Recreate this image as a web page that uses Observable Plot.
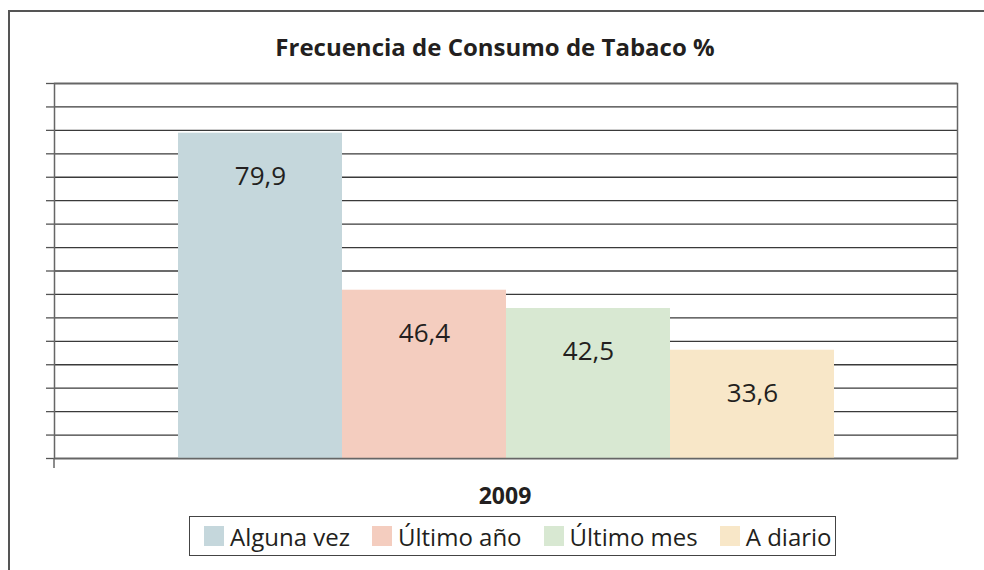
<!DOCTYPE html>
<html><head><meta charset="utf-8">
<script src="https://cdn.jsdelivr.net/npm/d3@7"></script>
<script src="https://cdn.jsdelivr.net/npm/@observablehq/plot@0.6"></script>
<style>
body{margin:0;background:#fff;font-family:"Open Sans",sans-serif;color:#231f20}
#wrap{position:relative;width:984px;height:570px;overflow:hidden;background:#fff}
#border{position:absolute;left:8px;top:10px;width:1200px;height:800px;border-left:2px solid #555;border-top:2px solid #555;box-sizing:border-box}
#chart{position:absolute;left:0;top:0}
#title{position:absolute;left:495px;top:46px;transform:translate(-50%,-50%);font-weight:700;font-size:24px;white-space:nowrap}
#cat{position:absolute;left:505px;top:495px;transform:translate(-50%,-50%);font-weight:700;font-size:23px}
#legend{position:absolute;left:189px;top:516px;width:647px;height:40px;box-sizing:border-box;border:1.5px solid #444;display:flex;align-items:center;justify-content:flex-start;gap:22px;padding-left:14px;font-size:24px}
.item{display:flex;align-items:center;white-space:nowrap}
.sw{width:20px;height:20px;margin-right:6px;display:inline-block}
</style></head>
<body>
<div id="wrap">
  <div id="border"></div>
  <div id="chart"></div>
  <div id="title"></div>
  <div id="cat"></div>
  <div id="legend"></div>
</div>
<script>
const titleText = "Frecuencia de Consumo de Tabaco %";
const category = "2009";
const series = ["Alguna vez", "Último año", "Último mes", "A diario"];
const values = [79.9, 46.4, 42.5, 33.6];
const colors = ["#c5d7dc", "#f4cdbf", "#d8e8d2", "#f8e7c8"];
const yDomain = [10.5, 90.5];
const gridStep = 5;

const fmt = d3.formatLocale({decimal: ",", thousands: ".", grouping: [3], currency: ["", "€"]}).format(".1f");
const rows = series.map((s, i) => ({series: s, value: values[i], label: fmt(values[i])}));
const gridTicks = d3.range(yDomain[0], yDomain[1] + 0.01, gridStep);

const W = 984, H = 570, mL = 54, mR = 27, mT = 83, mB = 112;

const chart = Plot.plot({
  width: W, height: H,
  marginTop: mT, marginBottom: mB, marginLeft: mL, marginRight: mR,
  style: {background: "transparent", overflow: "visible"},
  x: {domain: series, paddingInner: 0, paddingOuter: 0.75, axis: null},
  y: {domain: yDomain},
  color: {domain: series, range: colors},
  marks: [
    Plot.ruleY(gridTicks, {stroke: "#3a3a3a", strokeWidth: 1.3}),
    Plot.axisY(gridTicks, {tickSize: 8, tickFormat: () => "", stroke: "#555", strokeWidth: 1.3, label: null}),
    Plot.barY(rows, {x: "series", y1: yDomain[0], y2: "value", fill: "series"}),
    Plot.frame({stroke: "#666", strokeWidth: 1.5}),
    Plot.text(rows, {x: "series", y: "value", text: "label", dy: 43, fontSize: 26, fill: "#231f20", fontFamily: "Open Sans"})
  ]
});
document.getElementById("chart").appendChild(chart);
// small extension of the vertical axis below the baseline
d3.select(chart).append("line")
  .attr("x1", mL).attr("x2", mL)
  .attr("y1", H - mB).attr("y2", H - mB + 10)
  .attr("stroke", "#666").attr("stroke-width", 1.5);

document.getElementById("title").textContent = titleText;
document.getElementById("cat").textContent = category;
const lg = d3.select("#legend");
series.forEach((s, i) => {
  const it = lg.append("div").attr("class", "item");
  it.append("span").attr("class", "sw").style("background", colors[i]);
  it.append("span").text(s);
});
</script>
</body></html>
